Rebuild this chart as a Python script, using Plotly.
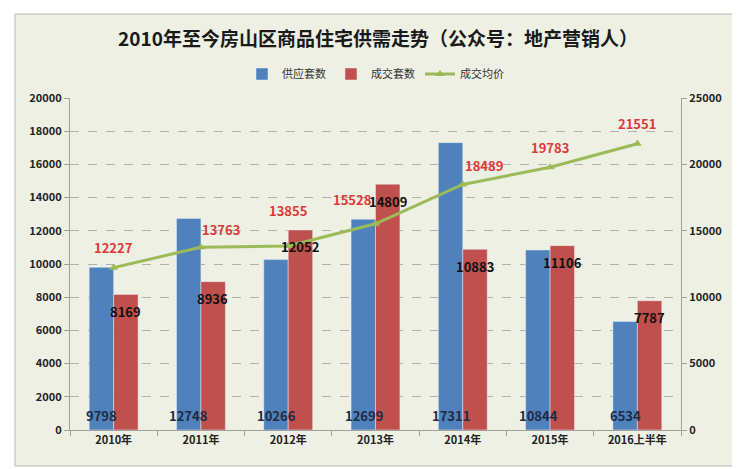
import plotly.graph_objects as go

categories = ["2010年", "2011年", "2012年", "2013年", "2014年", "2015年", "2016上半年"]
supply = [9798, 12748, 10266, 12699, 17311, 10844, 6534]
deals = [8169, 8936, 12052, 14809, 10883, 11106, 7787]
price = [12227, 13763, 13855, 15528, 18489, 19783, 21551]

# label offsets (pixels) for the price labels, style only
price_label_dx = [0, 20, 0, -23, 21, 0, 0]
price_label_dy = [20, 18, 36, 24, 19, 20, 20]

W, H = 740, 469
L, R, T, B = 62, 67, 90, 47
pw, ph = W - L - R, H - T - B

def px(x):
    return (x - L) / pw

def py(y):
    return (H - B - y) / ph

font = "Noto Sans CJK SC"
fig = go.Figure()
fig.add_trace(go.Bar(x=categories, y=supply, name="供应套数", marker_color="#4f81bd"))
fig.add_trace(go.Bar(x=categories, y=deals, name="成交套数", marker_color="#c0504d"))
fig.add_trace(go.Scatter(
    x=categories, y=price, name="成交均价", yaxis="y2", mode="lines+markers",
    line=dict(color="#9bbb59", width=3),
    marker=dict(symbol="triangle-up", size=8, color="#9bbb59"),
))

half = 12
ann = []
for c, v in zip(categories, supply):
    ann.append(dict(x=c, y=0, xref="x", yref="y", xshift=-half, yshift=15,
                    text=f"<b>{v}</b>", showarrow=False,
                    font=dict(size=13, color="#1f2a44", family=font)))
for c, v in zip(categories, deals):
    ann.append(dict(x=c, y=v, xref="x", yref="y", xshift=half, yshift=-17,
                    text=f"<b>{v}</b>", showarrow=False,
                    font=dict(size=13, color="#111111", family=font)))
for c, v, dx, dy in zip(categories, price, price_label_dx, price_label_dy):
    ann.append(dict(x=c, y=v, xref="x", yref="y2", xshift=dx, yshift=dy,
                    text=f"<b>{v}</b>", showarrow=False,
                    font=dict(size=13, color="#e0383a", family=font)))

tf = dict(size=11, color="#222222", family=font)
fig.update_layout(
    width=W, height=H,
    margin=dict(l=L, r=R, t=T, b=B),
    paper_bgcolor="white", plot_bgcolor="rgba(0,0,0,0)",
    barmode="group", bargap=0.44, bargroupgap=0,
    font=dict(family=font, size=11, color="#222222"),
    title=dict(text="<b>2010年至今房山区商品住宅供需走势（公众号：地产营销人）</b>",
               x=0.5, xanchor="center", y=1 - 31 / H, yanchor="middle",
               font=dict(size=19, color="#1a1a1a", family=font)),
    legend=dict(orientation="h", x=0.5, xanchor="center", y=py(66), yanchor="middle",
                bgcolor="rgba(0,0,0,0)", font=dict(size=11, color="#333333"),
                itemwidth=30, traceorder="normal"),
    xaxis=dict(showline=True, linecolor="#a0a0a0", linewidth=1, ticks="outside",
               tickson="boundaries", tickcolor="#a0a0a0", ticklen=5,
               tickfont=tf, showgrid=False, tickprefix="<b>", ticksuffix="</b>"),
    yaxis=dict(range=[0, 20000], dtick=2000, tickformat="d", showline=True, linecolor="#a0a0a0",
               ticks="outside", tickcolor="#a0a0a0", ticklen=5,
               showgrid=True, gridcolor="#b0b0b0", griddash="dash", gridwidth=1,
               tickfont=tf, zeroline=False, tickprefix="<b>", ticksuffix="</b>"),
    yaxis2=dict(range=[0, 25000], dtick=5000, tickformat="d", overlaying="y", side="right",
                showline=True, linecolor="#a0a0a0", ticks="outside", tickcolor="#a0a0a0",
                ticklen=5, showgrid=False, zeroline=False,
                tickfont=tf, tickprefix="<b>", ticksuffix="</b>"),
    annotations=ann,
    shapes=[dict(type="rect", xref="paper", yref="paper",
                 x0=px(7), x1=px(732), y0=py(458), y1=py(6),
                 fillcolor="#eef0e4", line=dict(color="#b8b8b8", width=1), layer="below")],
)
fig.write_html("out.html")
